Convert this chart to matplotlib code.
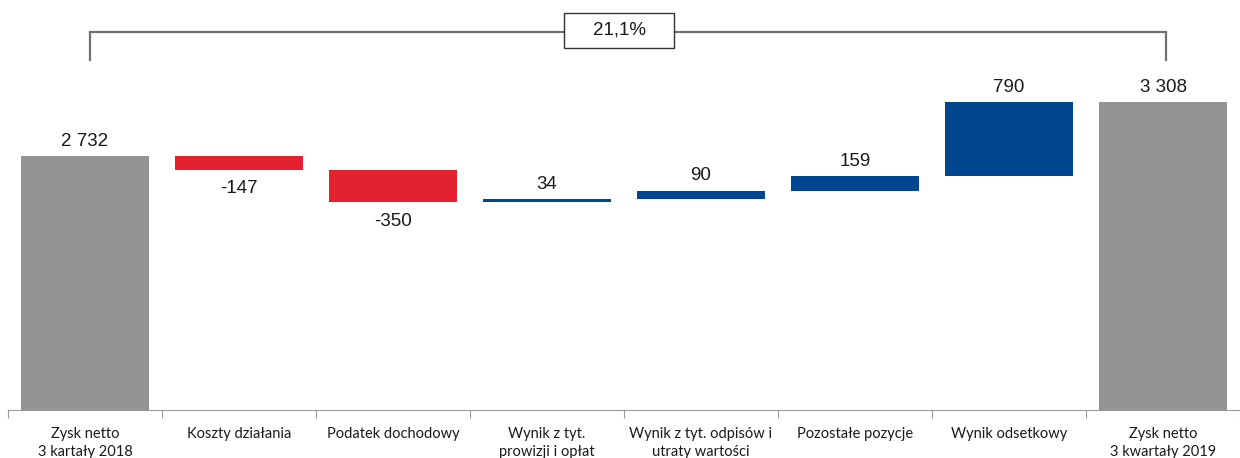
import matplotlib
matplotlib.use("Agg")
import matplotlib.pyplot as plt
from matplotlib.patches import Rectangle

categories = ["Zysk netto\n3 kartały 2018", "Koszty działania", "Podatek dochodowy",
              "Wynik z tyt.\nprowizji i opłat", "Wynik z tyt. odpisów i\nutraty wartości",
              "Pozostałe pozycje", "Wynik odsetkowy", "Zysk netto\n3 kwartały 2019"]
values = [2732, -147, -350, 34, 90, 159, 790, 3308]
labels = ["2 732", "-147", "-350", "34", "90", "159", "790", "3 308"]
kinds = ["total", "delta", "delta", "delta", "delta", "delta", "delta", "total"]
change_label = "21,1%"

GRAY = "#949494"
RED = "#E4212E"
BLUE = "#00468E"

plt.rcParams['font.family'] = ['Liberation Sans Narrow', 'Liberation Sans', 'DejaVu Sans']

fig = plt.figure(figsize=(12.4, 4.58), dpi=100)
ax = fig.add_axes([8/1240, 1 - 410/458, 1232/1240, 410/458])
ax.set_xlim(-0.5, -0.5 + 1232/155.6)
ax.set_ylim(0, 410/0.09297)

bw = 0.83
running = 0
for i, (v, k, lab) in enumerate(zip(values, kinds, labels)):
    if k == "total":
        bottom, height, color = 0, v, GRAY
        running = v
    else:
        if v < 0:
            bottom, height, color = running + v, -v, RED
        else:
            bottom, height, color = running, v, BLUE
        running += v
    ax.bar(i, height, bottom=bottom, width=bw, color=color, zorder=2)
    if k == "delta" and v < 0:
        ax.annotate(lab, (i, bottom), xytext=(0, -7.5), textcoords="offset points",
                    ha="center", va="top", fontsize=13.5, color="#1a1a1a")
    else:
        ax.annotate(lab, (i, bottom + height), xytext=(0, 4.5), textcoords="offset points",
                    ha="center", va="bottom", fontsize=13.5, color="#1a1a1a")

# bracket
yb = 4066
yb_end = 3765
xl, xr = 0.035, 7.02
ax.plot([xl, xl, xr, xr], [yb_end, yb, yb, yb_end], color="#707070", lw=1.6,
        solid_joinstyle="miter", clip_on=False, zorder=1)
bx, by = 3.47, 4082
bwid, bhei = 111/155.6, 35/0.09297
ax.add_patch(Rectangle((bx - bwid/2, by - bhei/2), bwid, bhei, fc="white",
                       ec="#333333", lw=1.0, zorder=3, clip_on=False))
ax.text(bx, by, change_label, ha="center", va="center", fontsize=13.5, color="#1a1a1a",
        zorder=4)

for s in ["top", "right", "left"]:
    ax.spines[s].set_visible(False)
ax.spines["bottom"].set_color("#999999")
ax.set_yticks([])
ax.set_xticks([i - 0.5 for i in range(9)])
ax.set_xticklabels([])
ax.tick_params(axis="x", length=6, color="#999999", direction="out")
for i, c in enumerate(categories):
    ax.text(i, -185, c, ha="center", va="top", fontsize=10.5, color="#1a1a1a",
            family=['Lato', 'DejaVu Sans'], linespacing=1.38)

fig.savefig("out.png", dpi=100)
